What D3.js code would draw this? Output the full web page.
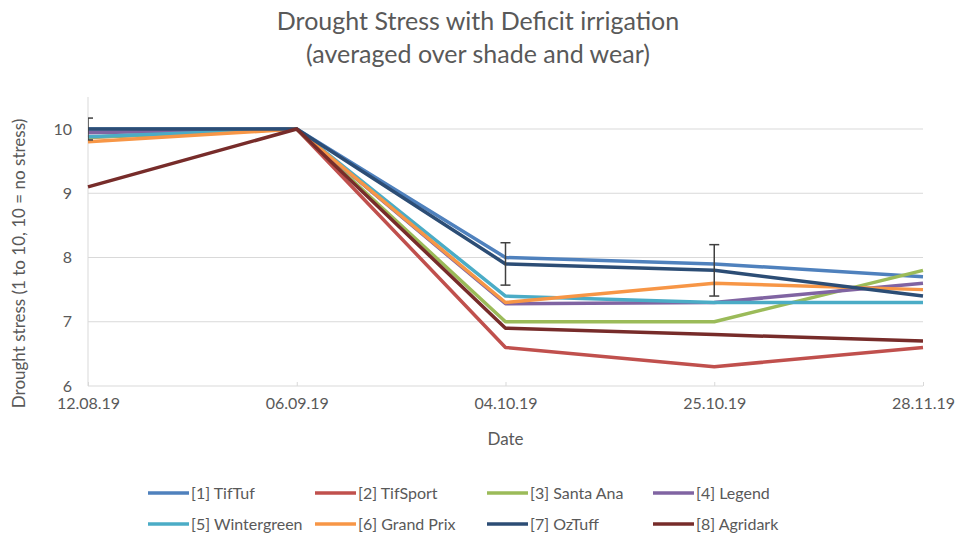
<!DOCTYPE html>
<html><head><meta charset="utf-8">
<script src="https://cdn.jsdelivr.net/npm/d3@7"></script>
<style>body{margin:0;background:#fff}svg{display:block}text{font-family:Lato,"Open Sans",sans-serif;fill:#595959}</style>
</head><body><svg id="c" width="959" height="544"></svg>
<script>
const dates = ["12.08.19","06.09.19","04.10.19","25.10.19","28.11.19"];
const seriesNames = ["[1] TifTuf","[2] TifSport","[3] Santa Ana","[4] Legend","[5] Wintergreen","[6] Grand Prix","[7] OzTuff","[8] Agridark"];
const tifTuf      = [10.0, 10, 8.0, 7.9, 7.7];
const tifSport    = [9.87, 10, 6.6, 6.3, 6.6];
const santaAna    = [9.87, 10, 7.0, 7.0, 7.8];
const legend      = [9.94, 10, 7.28, 7.3, 7.6];
const wintergreen = [9.88, 10, 7.4, 7.3, 7.3];
const grandPrix   = [9.8, 10, 7.3, 7.6, 7.5];
const ozTuff      = [10.0, 10, 7.9, 7.8, 7.4];
const agridark    = [9.1, 10, 6.9, 6.8, 6.7];
const ozTuffError = [0.17, 0, 0.33, 0.4, 0];
const yTicks = [6,7,8,9,10];
const colors = ["#4F81BD","#C0504D","#9BBB59","#8064A2","#4BACC6","#F79646","#2C4D75","#772C2A"];
const allSeries = [tifTuf,tifSport,santaAna,legend,wintergreen,grandPrix,ozTuff,agridark];

const svg = d3.select("#c");
const L=88,R=923,T=97,B=386;
const x = d3.scalePoint().domain(dates).range([L,R]);
const y = d3.scaleLinear().domain([6,10.5]).range([B,B-4.5*64.25]);

// title
svg.append("text").attr("x",478).attr("y",30).attr("text-anchor","middle").style("font-size","25px").text("Drought Stress with Deficit irrigation");
svg.append("text").attr("x",478).attr("y",63).attr("text-anchor","middle").style("font-size","25px").text("(averaged over shade and wear)");

// gridlines
svg.append("g").selectAll("line").data(yTicks.filter(d=>d>6)).join("line")
  .attr("x1",L).attr("x2",R).attr("y1",d=>y(d)).attr("y2",d=>y(d))
  .attr("stroke","#d9d9d9").attr("stroke-width",1);

// y axis
const ya = svg.append("g").attr("transform",`translate(${L},0)`).call(d3.axisLeft(y).tickValues(yTicks).tickSize(0).tickPadding(16).tickFormat(d3.format("d")));
ya.select(".domain").attr("stroke","#d9d9d9").attr("d",`M0,${T}V${B}`);
ya.selectAll("text").style("font-size","16px").style("fill","#595959").style("font-family","Lato, sans-serif");

// x axis
const xa = svg.append("g").attr("transform",`translate(0,${B})`).call(d3.axisBottom(x).tickSize(0).tickPadding(12));
xa.select(".domain").attr("stroke","#d9d9d9").attr("d",`M${L},0H${R}`);
xa.selectAll("text").style("font-size","16px").style("fill","#595959").style("font-family","Lato, sans-serif");
xa.selectAll(".tick").append("line").attr("y1",-4).attr("y2",0).attr("stroke","#d9d9d9");

// axis titles
svg.append("text").attr("transform",`translate(25,${(T+B)/2+22}) rotate(-90)`).attr("text-anchor","middle").style("font-size","17px").text("Drought stress (1 to 10, 10 = no stress)");
svg.append("text").attr("x",(L+R)/2).attr("y",445).attr("text-anchor","middle").style("font-size","17px").text("Date");

// lines
const line = d3.line().x((d,i)=>x(dates[i])).y(d=>y(d));
svg.append("g").selectAll("path").data(allSeries).join("path")
  .attr("d",line).attr("fill","none").attr("stroke",(d,i)=>colors[i])
  .attr("stroke-width",3.5).attr("stroke-linejoin","round");

// error bars on OzTuff
svg.append("clipPath").attr("id","pc").append("rect").attr("x",L).attr("y",0).attr("width",R-L+10).attr("height",B);
const eb = svg.append("g").attr("clip-path","url(#pc)").attr("stroke","#404040").attr("stroke-width",1.5);
ozTuffError.forEach((e,i)=>{
  if(!e) return;
  const cx=x(dates[i]), v=ozTuff[i];
  eb.append("line").attr("x1",cx).attr("x2",cx).attr("y1",y(v+e)).attr("y2",y(v-e));
  eb.append("line").attr("x1",cx-5).attr("x2",cx+5).attr("y1",y(v+e)).attr("y2",y(v+e));
  eb.append("line").attr("x1",cx-5).attr("x2",cx+5).attr("y1",y(v-e)).attr("y2",y(v-e));
});

// legend
const legX=[148,315,487,653], legY=[493,524];
const lg = svg.append("g");
seriesNames.forEach((n,i)=>{
  const gx=legX[i%4], gy=legY[Math.floor(i/4)];
  lg.append("line").attr("x1",gx).attr("x2",gx+41).attr("y1",gy).attr("y2",gy).attr("stroke",colors[i]).attr("stroke-width",3.5);
  lg.append("text").attr("x",gx+43).attr("y",gy+5.5).style("font-size","16px").text(n);
});
</script></body></html>
